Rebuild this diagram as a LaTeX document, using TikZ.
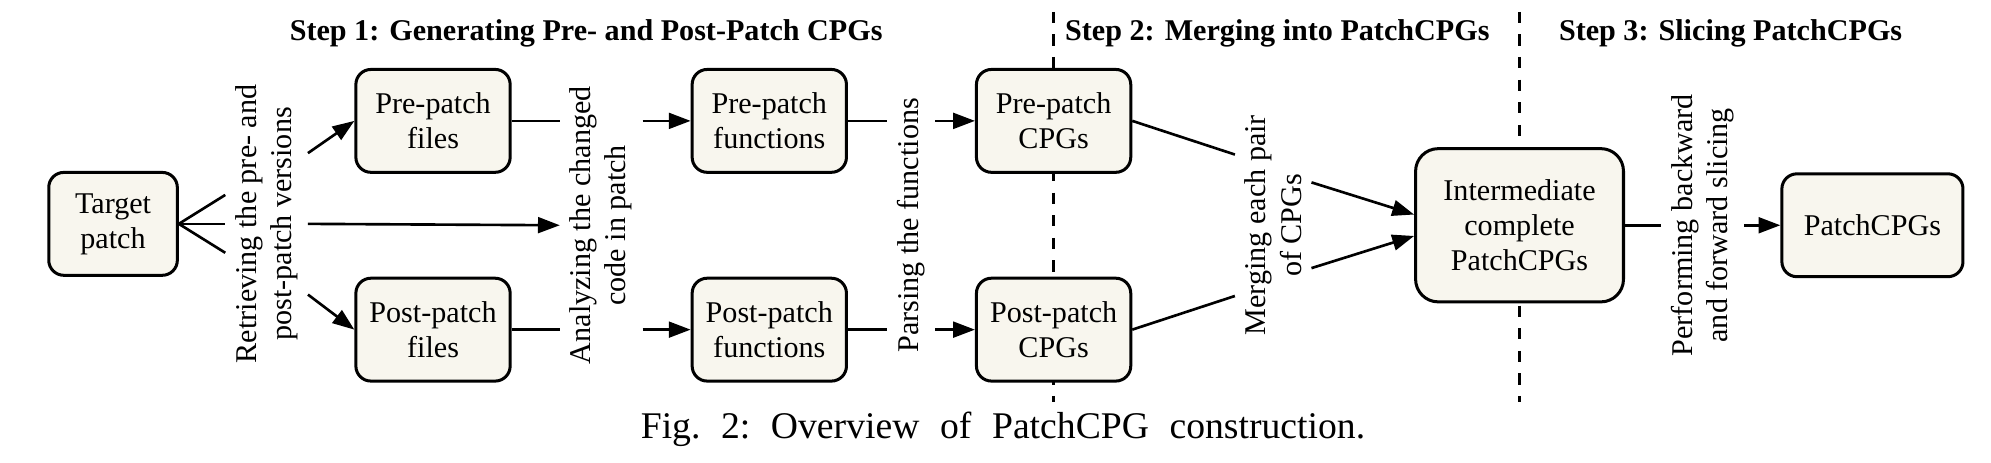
\documentclass[tikz,border=0pt]{standalone}
\usepackage{fontspec}
\setmainfont{Liberation Serif}
\usepackage{tikz}
\usetikzlibrary{arrows.meta, positioning, calc, backgrounds}
\definecolor{boxfill}{HTML}{F8F6EE}
\definecolor{ink}{HTML}{000000}
\tikzset{
    box/.style={rectangle, rounded corners=4pt, draw=ink, fill=boxfill, line width=0.8pt,
                minimum width=1.44cm, minimum height=0.96cm, align=center,
                font=\rmfamily\fontsize{8}{9.3}\selectfont, inner sep=2pt},
    lbl/.style={rotate=90, align=center, font=\rmfamily\fontsize{8}{9.3}\selectfont, inner sep=2.5pt},
    steptitle/.style={font=\rmfamily\fontsize{8}{9.3}\selectfont\bfseries},
    conn/.style={line width=0.7pt, color=ink},
    arr/.style={conn, -{Triangle[length=5.8pt, width=4.2pt]}},
    divider/.style={dashed, line width=0.6pt, color=ink},
}

\begin{document}
\begin{tikzpicture}[node distance=0.96cm]
  \useasboundingbox (0,0) rectangle (18.58,4.32);

  \node[box, minimum width=1.2cm] (target) at (1.055,2.231) {Target\\patch};
  \node[box] (prefiles) at (4.041,3.192) {Pre-patch\\files};
  \node[box, below=of prefiles] (postfiles) {Post-patch\\files};
  \node[box, right=1.67cm of prefiles] (prefunc) {Pre-patch\\functions};
  \node[box, below=of prefunc] (postfunc) {Post-patch\\functions};
  \node[box, right=1.185cm of prefunc] (precpg) {Pre-patch\\CPGs};
  \node[box, below=of precpg] (postcpg) {Post-patch\\CPGs};
  \coordinate (cpgmid) at ($(precpg.east)!0.5!(postcpg.east)$);
  \node[box, right=2.63cm of cpgmid, minimum width=1.94cm, minimum height=1.43cm,
        rounded corners=6pt] (inter) {Intermediate\\complete\\PatchCPGs};
  \node[box, right=1.45cm of inter, minimum width=1.69cm] (patchcpg) {PatchCPGs};

  \path (target.east) -- (target.east -| prefiles.west)
        node[midway, lbl] (retr) {Retrieving the pre- and\\post-patch versions};
  \path (prefiles.east) -- (postfunc.west)
        node[midway, lbl] (anlz) {Analyzing the changed\\code in patch};
  \path (prefunc.east) -- (postcpg.west)
        node[midway, lbl] (parse) {Parsing the functions};
  \path (precpg.east |- inter.west) -- (inter.west)
        node[midway, lbl] (merge) {Merging each pair\\of CPGs};
  \path (inter.east) -- (patchcpg.west)
        node[midway, lbl] (slice) {Performing backward\\and forward slicing};

  \node[steptitle] (step1) at (5.47,4.01) {Step 1: Generating Pre- and Post-Patch CPGs};
  \node[steptitle] (step2) at (11.92,4.01) {Step 2: Merging into PatchCPGs};
  \node[steptitle] (step3) at (16.15,4.01) {Step 3: Slicing PatchCPGs};

  \node[font=\rmfamily\fontsize{10}{12}\selectfont] (caption) at (9.36,0.31)
       {\frenchspacing\makebox[6.76cm][s]{Fig. 2: Overview of PatchCPG construction.}};

  \draw[conn] (target.east) -- ($(retr.north)+(0,0.27)$);
  \draw[conn] (target.east) -- (retr.north);
  \draw[conn] (target.east) -- ($(retr.north)+(0,-0.27)$);
  \draw[arr] ($(retr.south)+(0,0.66)$) -- (prefiles.west);
  \draw[arr] ($(retr.south)+(0,-0.66)$) -- (postfiles.west);
  \draw[arr] (retr.south) -- (anlz.north);

  \draw[conn] (prefiles.east) -- (prefiles.east -| anlz.north);
  \draw[arr] (prefunc.west -| anlz.south) -- (prefunc.west);
  \draw[conn] (postfiles.east) -- (postfiles.east -| anlz.north);
  \draw[arr] (postfunc.west -| anlz.south) -- (postfunc.west);

  \draw[conn] (prefunc.east) -- (prefunc.east -| parse.north);
  \draw[arr] (precpg.west -| parse.south) -- (precpg.west);
  \draw[conn] (postfunc.east) -- (postfunc.east -| parse.north);
  \draw[arr] (postcpg.west -| parse.south) -- (postcpg.west);

  \draw[conn] (precpg.east) -- ($(merge.north)+(0,0.66)$);
  \draw[conn] (postcpg.east) -- ($(merge.north)+(0,-0.66)$);
  \draw[arr] ($(merge.south)+(0,0.4)$) -- ($(inter.west)+(0,0.1)$);
  \draw[arr] ($(merge.south)+(0,-0.4)$) -- ($(inter.west)+(0,-0.1)$);

  \draw[conn] (inter.east) -- (slice.north);
  \draw[arr] (slice.south) -- (patchcpg.west);

  \coordinate (divtop) at (0,4.21);
  \coordinate (divbot) at (0,0.57);
  \begin{scope}[on background layer]
    \draw[divider] (precpg |- divtop) -- (precpg |- divbot);
    \draw[divider] (inter |- divtop) -- (inter |- divbot);
  \end{scope}

\end{tikzpicture}
\end{document}
